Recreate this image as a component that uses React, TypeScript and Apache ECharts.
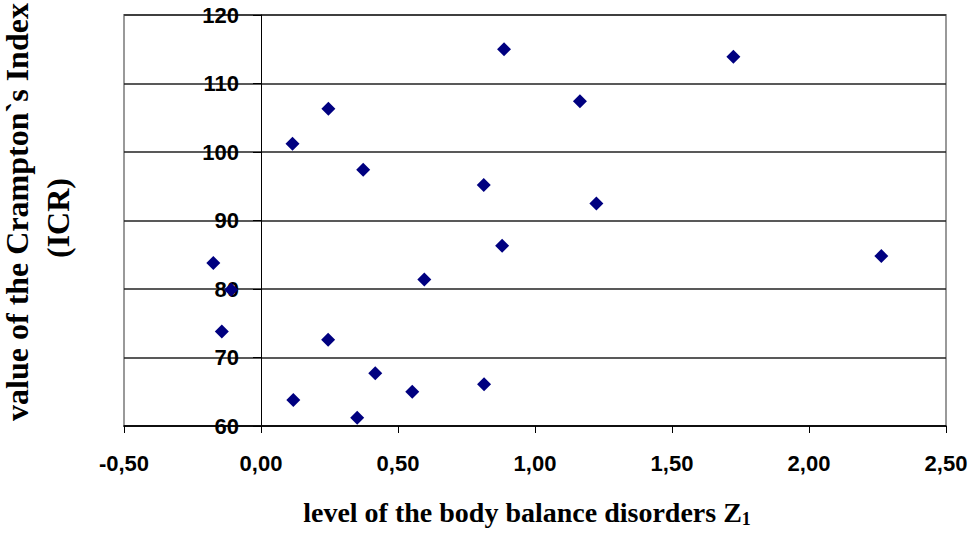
import React, { useEffect, useRef } from "react";
import * as echarts from "echarts";

const xValues: number[] = [
  0.887, 1.724, 0.246, 1.164, 0.115, 0.373, 0.813, 1.224, 0.88, -0.174,
  2.264, -0.109, 0.596, -0.143, 0.245, 0.417, 0.118, 0.552, 0.814, 0.351,
];
const yValues: number[] = [
  115.0, 113.9, 106.3, 107.4, 101.2, 97.4, 95.2, 92.5, 86.3, 83.8,
  84.8, 79.9, 81.4, 73.8, 72.6, 67.7, 63.8, 65.0, 66.1, 61.2,
];
const xTickLabels: string[] = ["-0,50", "0,00", "0,50", "1,00", "1,50", "2,00", "2,50"];
const yTickLabels: string[] = ["60", "70", "80", "90", "100", "110", "120"];
const xTitle = "level of the body balance disorders Z";
const xTitleSub = "1";
const yTitleLine1 = "value of the Crampton`s Index";
const yTitleLine2 = "(ICR)";

export default function App() {
  const ref = useRef<HTMLDivElement>(null);
  useEffect(() => {
    if (!ref.current) return;
    const chart = echarts.init(ref.current, null, { renderer: "svg" });
    const sans = "'Liberation Sans', Arial, sans-serif";
    const serif = "'Liberation Serif', 'Times New Roman', serif";
    chart.setOption({
      animation: false,
      backgroundColor: "#ffffff",
      grid: {
        left: 124,
        right: 26,
        top: 15,
        bottom: 108,
        show: true,
        borderColor: "#999999",
        borderWidth: 2,
        backgroundColor: "transparent",
      },
      xAxis: {
        type: "value",
        min: -0.5,
        max: 2.5,
        interval: 0.5,
        splitLine: { show: false },
        axisLine: { onZero: false, lineStyle: { color: "#000", width: 1.5 } },
        axisTick: { show: true, length: 7, lineStyle: { color: "#000", width: 1 } },
        axisLabel: {
          margin: 26,
          color: "#000",
          fontFamily: sans,
          fontWeight: "bold",
          fontSize: 22,
          formatter: (_v: number, i: number) => xTickLabels[i] ?? "",
        },
      },
      yAxis: {
        type: "value",
        min: 60,
        max: 120,
        interval: 10,
        splitLine: { show: true, lineStyle: { color: "#222", width: 1.5 } },
        axisLine: { onZero: true, lineStyle: { color: "#000", width: 1 } },
        axisTick: { show: true, length: 8, lineStyle: { color: "#000", width: 1 } },
        axisLabel: {
          margin: -115,
          color: "#000",
          fontFamily: sans,
          fontWeight: "bold",
          fontSize: 22,
          formatter: (_v: number, i: number) => yTickLabels[i] ?? "",
        },
      },
      series: [
        {
          type: "scatter",
          symbol: "diamond",
          symbolSize: 14,
          itemStyle: { color: "#000080", opacity: 1 },
          data: xValues.map((x, i) => [x, yValues[i]]),
          z: 1,
        },
      ],
      graphic: [
        {
          type: "text",
          x: 527,
          y: 512,
          style: {
            text: `{a|${xTitle}}{b|${xTitleSub}}`,
            textAlign: "center",
            textVerticalAlign: "middle",
            rich: {
              a: { fontFamily: serif, fontWeight: "bold", fontSize: 28, fill: "#000", lineHeight: 32 },
              b: { fontFamily: serif, fontWeight: "bold", fontSize: 18, fill: "#000", padding: [13, 0, 0, 0], lineHeight: 32 },
            },
          },
        },
        {
          type: "text",
          x: 17,
          y: 212,
          rotation: Math.PI / 2,
          style: {
            text: yTitleLine1,
            fontFamily: serif,
            fontWeight: "bold",
            fontSize: 32,
            fill: "#000",
            textAlign: "center",
            textVerticalAlign: "middle",
          },
        },
        {
          type: "text",
          x: 58,
          y: 218,
          rotation: Math.PI / 2,
          style: {
            text: yTitleLine2,
            fontFamily: serif,
            fontWeight: "bold",
            fontSize: 32,
            fill: "#000",
            textAlign: "center",
            textVerticalAlign: "middle",
          },
        },
      ],
    });
    return () => chart.dispose();
  }, []);
  return (
    <div
      ref={ref}
      style={{ position: "absolute", left: 0, top: 0, width: 972, height: 534 }}
    />
  );
}
